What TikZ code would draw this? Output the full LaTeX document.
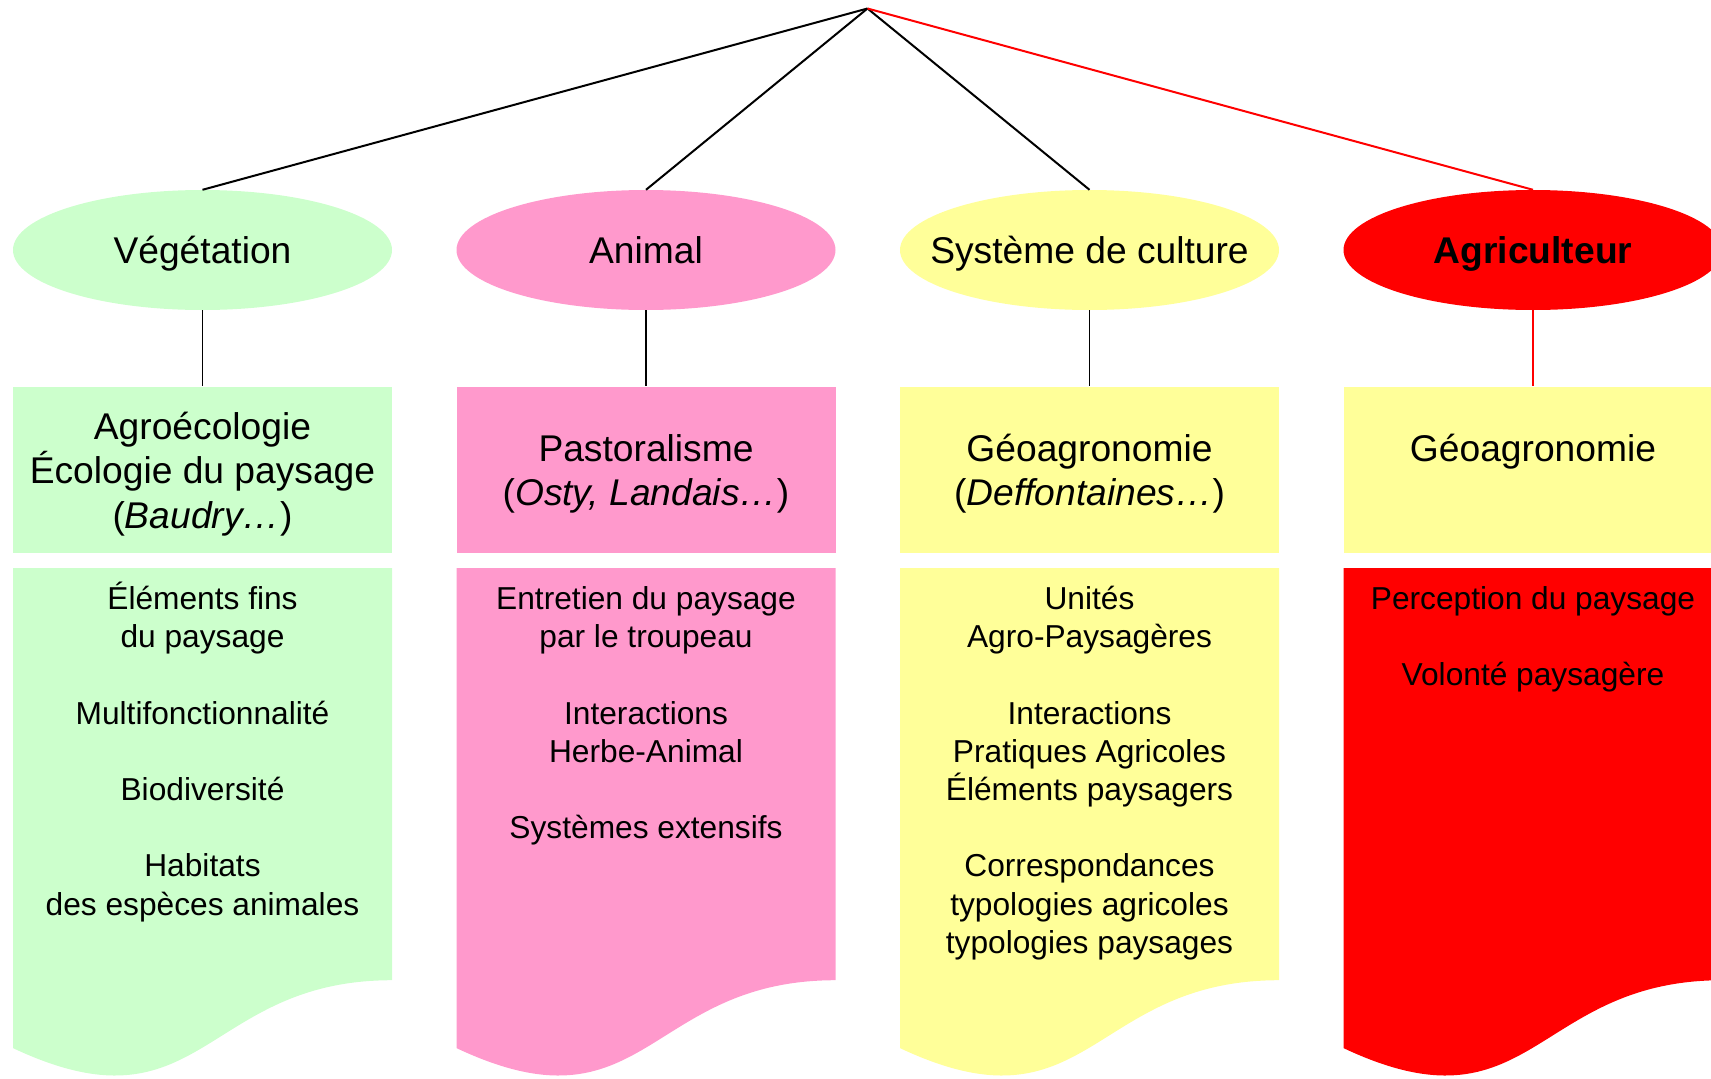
\documentclass[tikz,border=0pt]{standalone}
\usepackage{fontspec}
\setmainfont{Liberation Sans}
\usetikzlibrary{shapes.geometric}
\definecolor{cgreen}{HTML}{CCFFCC}
\definecolor{cpink}{HTML}{FF99CC}
\definecolor{cyellow}{HTML}{FFFF99}
\definecolor{cred}{HTML}{FF0000}
\newcommand\HdFont{\fontsize{37.2}{44.5}\selectfont}
\newcommand\BdFont{\fontsize{31.7}{38.2}\selectfont}
\newcommand\DocShape[2]{%
  \fill[#2] ({#1-189.5},568) -- ({#1+189.5},568) -- ({#1+189.5},980.2)
    .. controls (#1,980.2) and (#1,1137.3) .. ({#1-189.5},1048.1) -- cycle;}
\begin{document}
\begin{tikzpicture}[x=1pt,y=-1pt,
  ell/.style={ellipse, minimum width=379pt, minimum height=120pt, inner sep=0pt,
    font=\HdFont, text height=26.6pt, text depth=0pt},
  topbox/.style={rectangle, minimum width=379pt, minimum height=166.4pt, inner sep=0pt},
  ttext/.style={anchor=north, align=center, inner sep=0pt, font=\HdFont},
  btext/.style={anchor=north, align=center, inner sep=0pt, font=\BdFont},
  link/.style={line width=2pt},
  vlink/.style={line width=1.3pt}]
\useasboundingbox (0,0) rectangle (1711,1079);
\clip (0,0) rectangle (1711,1079);

% ellipses
\node[ell, fill=cgreen] (veg) at (202.5,250) {\makebox[0pt]{Végétation}};
\node[ell, fill=cpink] (ani) at (646,250) {\makebox[0pt]{Animal}};
\node[ell, fill=cyellow] (sys) at (1089.5,250) {\makebox[0pt]{Système de culture}};
\node[ell, fill=cred, font=\HdFont\bfseries] (agr) at (1533,250) {\makebox[0pt]{Agriculteur}};

% top boxes
\node[topbox, fill=cgreen] (vegA) at (202.5,469.8) {};
\node[topbox, fill=cpink] (aniA) at (646,469.8) {};
\node[topbox, fill=cyellow] (sysA) at (1089.5,469.8) {};
\node[topbox, fill=cyellow] (agrA) at (1533,469.8) {};

\node[ttext] (vegAt) at (202.5,401.6) {\rule{0pt}{37.2pt}Agroécologie\\Écologie du paysage\\(\textit{Baudry…})};
\node[ttext] (aniAt) at (646,423.8) {\rule{0pt}{37.2pt}Pastoralisme\\(\textit{Osty, Landais…})};
\node[ttext] (sysAt) at (1089.5,423.8) {\rule{0pt}{37.2pt}Géoagronomie\\(\textit{Deffontaines…})};
\node[ttext] (agrAt) at (1533,423.8) {\rule{0pt}{37.2pt}Géoagronomie};

% bottom document shapes
\DocShape{202.5}{cgreen}
\DocShape{646}{cpink}
\DocShape{1089.5}{cyellow}
\DocShape{1533}{cred}

\node[btext] (vegBt) at (202.5,577.6) {\rule{0pt}{31.7pt}Éléments fins\\du paysage\\[38.2pt]Multifonctionnalité\\[38.2pt]Biodiversité\\[38.2pt]Habitats\\des espèces animales};
\node[btext] (aniBt) at (646,577.6) {\rule{0pt}{31.7pt}Entretien du paysage\\par le troupeau\\[38.2pt]Interactions\\Herbe-Animal\\[38.2pt]Systèmes extensifs};
\node[btext] (sysBt) at (1089.5,577.6) {\rule{0pt}{31.7pt}Unités\\Agro-Paysagères\\[38.2pt]Interactions\\Pratiques Agricoles\\Éléments paysagers\\[38.2pt]Correspondances\\typologies agricoles\\typologies paysages};
\node[btext] (agrBt) at (1533,577.6) {\rule{0pt}{31.7pt}Perception du paysage\\[38.2pt]Volonté paysagère};

% connectors
\coordinate (apex) at (867.5,8.5);
\draw[link] (apex) -- (veg.north);
\draw[link] (apex) -- (ani.north);
\draw[link] (apex) -- (sys.north);
\draw[link, cred] (apex) -- (agr.north);
\draw[vlink] (veg.south) -- (vegA.north);
\draw[vlink] (ani.south) -- (aniA.north);
\draw[vlink] (sys.south) -- (sysA.north);
\draw[vlink, cred] (agr.south) -- (agrA.north);
\end{tikzpicture}
\end{document}
